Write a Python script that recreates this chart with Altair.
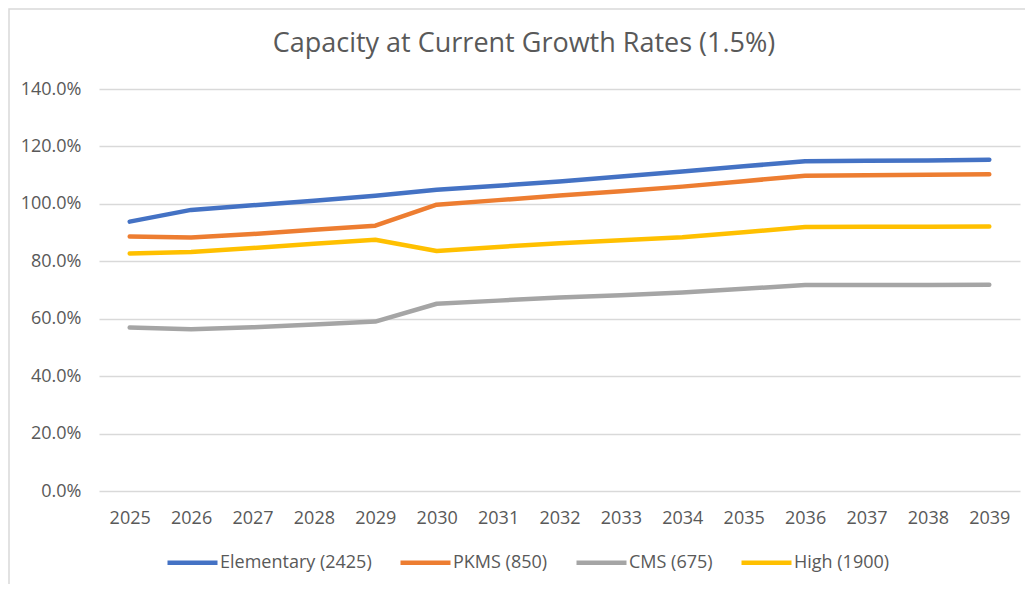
import altair as alt
import pandas as pd

years = [str(y) for y in range(2025, 2040)]
series_names = ["Elementary (2425)", "PKMS (850)", "CMS (675)", "High (1900)"]
series_colors = ["#4472C4", "#ED7D31", "#A5A5A5", "#FFC000"]
title_text = "Capacity at Current Growth Rates (1.5%)"

elementary = [93.8, 97.9, 99.5, 101.1, 102.8, 104.9, 106.3, 107.8, 109.5, 111.3, 113.1, 114.8, 115.0, 115.1, 115.4]
pkms = [88.6, 88.3, 89.5, 91.0, 92.4, 99.7, 101.3, 102.9, 104.4, 106.0, 107.9, 109.8, 110.0, 110.1, 110.3]
cms = [56.9, 56.3, 57.0, 58.0, 59.0, 65.2, 66.3, 67.4, 68.2, 69.1, 70.4, 71.7, 71.7, 71.7, 71.8]
high = [82.7, 83.2, 84.6, 86.1, 87.5, 83.6, 85.0, 86.3, 87.3, 88.4, 90.1, 91.9, 92.0, 92.0, 92.1]

rows = []
for name, vals in zip(series_names, [elementary, pkms, cms, high]):
    for yr, v in zip(years, vals):
        rows.append({"Year": yr, "Series": name, "Value": v / 100.0})
df = pd.DataFrame(rows)

W, H = 921, 402
FONT = "Open Sans"
TXT = "#595959"

lines = alt.Chart(df).mark_line(strokeWidth=4.5, strokeCap="round", strokeJoin="round").encode(
    x=alt.X("Year:N", sort=years, scale=alt.Scale(type="point", padding=0.5),
            axis=alt.Axis(title=None, labelAngle=0, domain=False, ticks=False, grid=False,
                          labelPadding=18, labelFontSize=18, labelColor=TXT, labelFont=FONT)),
    y=alt.Y("Value:Q", scale=alt.Scale(domain=[0, 1.4], nice=False),
            axis=alt.Axis(title=None, format=".1%", values=[0, 0.2, 0.4, 0.6, 0.8, 1.0, 1.2, 1.4],
                          domain=False, ticks=False, gridColor="#D9D9D9", gridWidth=1.3,
                          labelPadding=18, labelFontSize=18, labelColor=TXT, labelFont=FONT)),
    color=alt.Color("Series:N", sort=series_names,
                    scale=alt.Scale(domain=series_names, range=series_colors),
                    legend=alt.Legend(title=None, orient="none", direction="horizontal",
                                      legendX=66, legendY=446, symbolType="stroke",
                                      symbolSize=2500, symbolStrokeWidth=4.5,
                                      labelFontSize=18, labelFont=FONT, labelColor=TXT,
                                      labelOffset=0, columnPadding=19)),
    detail="Series:N",
)

title = alt.Chart(pd.DataFrame({"t": [title_text]})).mark_text(
    font=FONT, fontSize=27, color=TXT, align="center", baseline="alphabetic"
).encode(text="t:N", x=alt.value(425), y=alt.value(-37))

border = alt.Chart(pd.DataFrame({"a": [0]})).mark_rect(
    fill="transparent", stroke="#D9D9D9", strokeWidth=1.5
).encode(x=alt.value(-90), x2=alt.value(W + 40), y=alt.value(-80), y2=alt.value(H + 130))

chart = alt.layer(border, lines, title).properties(
    width=W, height=H,
    autosize=alt.AutoSizeParams(type="none"),
    padding={"left": 91, "top": 81, "right": 5, "bottom": 93},
    background="white",
).configure_view(stroke=None)

chart.save("out.html", embed_options={"renderer": "svg", "actions": False})
